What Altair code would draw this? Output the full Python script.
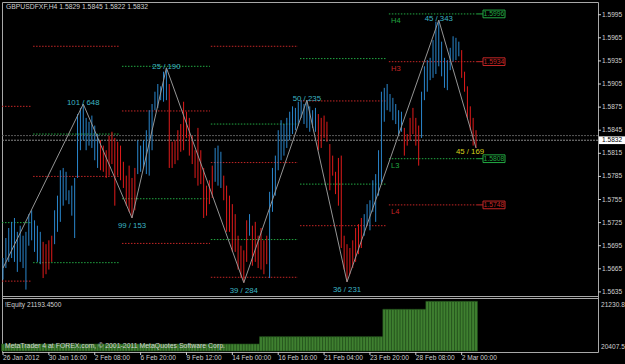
import altair as alt
import pandas as pd

# ---------------- data ----------------
HEADER = "GBPUSDFXF,H4  1.5829 1.5845 1.5822 1.5832"

HIGHS = [1.5679, 1.5705, 1.5718, 1.5726, 1.5731, 1.5713, 1.5721, 1.5708, 1.5713, 1.5736,
         1.5741, 1.5728, 1.5721, 1.5713, 1.5700, 1.5697, 1.5702, 1.5708, 1.5741, 1.5760,
         1.5793, 1.5796, 1.5791, 1.5767, 1.5773, 1.5783, 1.5866, 1.5874, 1.5879, 1.5861,
         1.5856, 1.5864, 1.5851, 1.5840, 1.5832, 1.5825, 1.5819, 1.5838, 1.5843, 1.5835,
         1.5830, 1.5825, 1.5804, 1.5786, 1.5799, 1.5783, 1.5796, 1.5832, 1.5825, 1.5832,
         1.5845, 1.5871, 1.5879, 1.5895, 1.5905, 1.5902, 1.5921, 1.5926, 1.5905, 1.5830,
         1.5832, 1.5845, 1.5853, 1.5882, 1.5869, 1.5861, 1.5838, 1.5819, 1.5848, 1.5819,
         1.5796, 1.5773, 1.5780, 1.5799, 1.5822, 1.5825, 1.5817, 1.5786, 1.5773, 1.5760,
         1.5749, 1.5736, 1.5708, 1.5695, 1.5689, 1.5728, 1.5736, 1.5721, 1.5726, 1.5708,
         1.5718, 1.5702, 1.5708, 1.5765, 1.5796, 1.5812, 1.5845, 1.5858, 1.5853, 1.5861,
         1.5869, 1.5876, 1.5874, 1.5882, 1.5884, 1.5879, 1.5884, 1.5876, 1.5871, 1.5874,
         1.5866, 1.5861, 1.5864, 1.5856, 1.5827, 1.5812, 1.5791, 1.5809, 1.5812, 1.5708,
         1.5697, 1.5692, 1.5702, 1.5718, 1.5723, 1.5731, 1.5736, 1.5749, 1.5754, 1.5780,
         1.5788, 1.5819, 1.5895, 1.5900, 1.5905, 1.5892, 1.5887, 1.5879, 1.5871, 1.5869,
         1.5848, 1.5840, 1.5861, 1.5874, 1.5861, 1.5851, 1.5895, 1.5928, 1.5936, 1.5939,
         1.5962, 1.5986, 1.5988, 1.5960, 1.5939, 1.5936, 1.5952, 1.5967, 1.5965, 1.5960,
         1.5949, 1.5921, 1.5902, 1.5876, 1.5861, 1.5845]

LOWS = [1.5651, 1.5666, 1.5674, 1.5679, 1.5674, 1.5661, 1.5674, 1.5666, 1.5638, 1.5695,
        1.5702, 1.5687, 1.5674, 1.5671, 1.5653, 1.5658, 1.5664, 1.5674, 1.5697, 1.5713,
        1.5726, 1.5747, 1.5754, 1.5749, 1.5734, 1.5705, 1.5783, 1.5819, 1.5832, 1.5819,
        1.5825, 1.5822, 1.5806, 1.5796, 1.5793, 1.5791, 1.5783, 1.5786, 1.5801, 1.5747,
        1.5786, 1.5780, 1.5770, 1.5747, 1.5739, 1.5731, 1.5741, 1.5788, 1.5791, 1.5796,
        1.5788, 1.5786, 1.5819, 1.5871, 1.5874, 1.5884, 1.5882, 1.5884, 1.5796, 1.5796,
        1.5801, 1.5806, 1.5817, 1.5819, 1.5835, 1.5812, 1.5801, 1.5783, 1.5773, 1.5775,
        1.5731, 1.5734, 1.5749, 1.5757, 1.5778, 1.5773, 1.5770, 1.5754, 1.5713, 1.5713,
        1.5687, 1.5687, 1.5664, 1.5653, 1.5647, 1.5674, 1.5708, 1.5669, 1.5674, 1.5666,
        1.5664, 1.5658, 1.5671, 1.5653, 1.5739, 1.5760, 1.5793, 1.5806, 1.5812, 1.5822,
        1.5832, 1.5840, 1.5845, 1.5851, 1.5861, 1.5853, 1.5848, 1.5843, 1.5848, 1.5843,
        1.5819, 1.5822, 1.5835, 1.5830, 1.5767, 1.5786, 1.5762, 1.5747, 1.5692, 1.5664,
        1.5648, 1.5658, 1.5666, 1.5674, 1.5684, 1.5692, 1.5708, 1.5721, 1.5715, 1.5739,
        1.5726, 1.5760, 1.5775, 1.5856, 1.5871, 1.5869, 1.5858, 1.5853, 1.5838, 1.5843,
        1.5812, 1.5825, 1.5832, 1.5840, 1.5825, 1.5799, 1.5835, 1.5884, 1.5895, 1.5910,
        1.5913, 1.5918, 1.5928, 1.5915, 1.5900, 1.5897, 1.5923, 1.5934, 1.5936, 1.5941,
        1.5913, 1.5895, 1.5861, 1.5845, 1.5825, 1.5822]

# 1 = bullish bar (blue), 0 = bearish bar (red)
UP = [1] * 14 + [0] * 4 + [1] * 16 + [0] * 13 + [1] * 11 + [0] * 16 + [1] * 3 + [0] * 9 + [1] \
     + [0] * 6 + [1] * 17 + [0] * 16 + [1] * 14 + [0] * 6 + [1] * 14 + [0] * 6

PIVOT_BAR = [0, 28, 45, 57, 84, 106, 120, 152, 165]
PIVOT_PRICE = [1.5666, 1.5879, 1.5731, 1.5926, 1.5647, 1.5884, 1.5648, 1.5988, 1.5822]
PIVOT_LABEL = ["", "101 / 648", "99 / 153", "25 / 190", "39 / 284", "50 / 235", "36 / 231", "45 / 343", "45 / 169"]
PIVOT_KIND = ["low", "high", "low", "high", "low", "high", "low", "high", "last"]

LEVEL_START = [-0.35] * 3 + [10.5] * 4 + [41.5] * 4 + [72.5] * 5 + [103.6] * 4 + [134.6] * 4
LEVEL_END = [10.1] * 3 + [40.8] * 4 + [72.2] * 4 + [102.9] * 5 + [133.9] * 4 + [165.3] * 4
LEVEL_PRICE = [1.5876, 1.5725, 1.5649,
               1.5954, 1.5840, 1.5785, 1.5673,
               1.5928, 1.5870, 1.5756, 1.5698,
               1.5954, 1.5853, 1.5803, 1.5703, 1.5654,
               1.5938, 1.5883, 1.5775, 1.5721,
               1.5996, 1.5934, 1.5808, 1.5748]
LEVEL_KIND = ["r", "g", "r",
              "r", "g", "r", "g",
              "g", "r", "g", "r",
              "r", "g", "r", "g", "r",
              "g", "r", "g", "r",
              "g", "r", "g", "r"]

TAG_TEXT = ["H4", "H3", "L3", "L4"]
TAG_PRICE = [1.5996, 1.5934, 1.5808, 1.5748]
TAG_KIND = ["g", "r", "g", "r"]

BID_PRICE = [1.5838, 1.5832]

Y_TICKS = [1.5635, 1.5665, 1.5695, 1.5725, 1.5755, 1.5785, 1.5815, 1.5845,
           1.5875, 1.5905, 1.5935, 1.5965, 1.5995]
CURRENT = 1.5832

X_TICK_BARS = [0, 16, 32, 48, 64, 80, 96, 112, 128, 144, 160]
X_TICK_LABELS = ["26 Jan 2012", "30 Jan 16:00", "2 Feb 08:00", "6 Feb 20:00", "9 Feb 12:00",
                 "14 Feb 00:00", "16 Feb 16:00", "21 Feb 04:00", "23 Feb 20:00",
                 "28 Feb 08:00", "2 Mar 00:00"]

EQ_START = [0, 90, 133, 148]
EQ_END = [89, 132, 147, 165]
EQ_VALUE = [20518.0, 20634.0, 21068.0, 21193.45]
EQ_TICKS = [21230.8, 20407.5]
EQ_TITLE = "!Equity 21193.4500"
COPYRIGHT = "MetaTrader 4 at FOREX.com, \u00a9 2001-2011 MetaQuotes Software Corp."

# ---------------- styling ----------------
FONT = "Liberation Sans"
UP_C, DN_C = "#2a86cc", "#e01b1b"
RED_L, GREEN_L = "#c42626", "#22a843"
AX_C = "#d0d0d0"
FRAME = "#a8a8a8"

W, H = 596, 350
xs = alt.Scale(domain=[-0.349, 207.55], nice=False, zero=False)
ps = alt.Scale(domain=[1.56297, 1.60115], range=[294, 0], nice=False, zero=False)
es = alt.Scale(domain=[20407.5, 21230.8], range=[349, 297], nice=False, zero=False)


def X(f):
    return alt.X(f, type="quantitative", scale=xs, axis=None)


def PY(f):
    return alt.Y(f, type="quantitative", scale=ps, axis=None)


def EY(f):
    return alt.Y(f, type="quantitative", scale=es, axis=None)


kc = {"r": RED_L, "g": GREEN_L}

bars = pd.DataFrame({"i": list(range(len(HIGHS))), "h": HIGHS, "l": LOWS,
                     "c": [UP_C if u else DN_C for u in UP]})
levels = pd.DataFrame({"s": LEVEL_START, "e": LEVEL_END, "p": LEVEL_PRICE,
                       "c": [kc[k] for k in LEVEL_KIND]})
piv = pd.DataFrame({"i": PIVOT_BAR, "p": PIVOT_PRICE, "t": PIVOT_LABEL, "k": PIVOT_KIND})
tags = pd.DataFrame({"t": TAG_TEXT, "p": TAG_PRICE, "c": [kc[k] for k in TAG_KIND],
                     "b": [f"{v:.4f}" for v in TAG_PRICE]})
tags["top"] = tags["p"] + 0.0005
tags["bot"] = tags["p"] - 0.0005
bids = pd.DataFrame({"p": BID_PRICE, "c": ["#5a5a5a", "#8a8a8a"]})
yt = pd.DataFrame({"p": Y_TICKS, "t": [f"{v:.4f}" for v in Y_TICKS]})
cur = pd.DataFrame({"p": [CURRENT], "top": [CURRENT + 0.0005], "bot": [CURRENT - 0.0005],
                    "t": [f"{CURRENT:.4f}"]})
xt = pd.DataFrame({"i": X_TICK_BARS, "t": X_TICK_LABELS})
eq_rows = []
for s, e, v in zip(EQ_START, EQ_END, EQ_VALUE):
    for i in range(s, e + 1):
        eq_rows.append({"i": i, "v": v})
eq = pd.DataFrame(eq_rows)
eq["x0"] = eq["i"] - 0.5
eq["x1"] = eq["i"] + 0.5
eq["base"] = EQ_TICKS[1]
eqt = pd.DataFrame({"v": EQ_TICKS, "t": ["21230.8", "20407.5"]})

layers = []

# equity histogram
layers.append(alt.Chart(eq).mark_rect(color="#3f8030", stroke="#24501c", strokeWidth=0.6).encode(
    x=X("x0"), x2="x1", y=EY("v"), y2="base"))

# pivot level lines
layers.append(alt.Chart(levels).mark_rule(strokeWidth=1, strokeDash=[1.5, 1.5]).encode(
    x=X("s"), x2="e", y=PY("p"), color=alt.Color("c:N", scale=None)))

# bid / ask lines
layers.append(alt.Chart(bids).mark_rule(strokeWidth=1, strokeDash=[2, 1]).encode(
    x=alt.value(0), x2=alt.value(W), y=PY("p"), color=alt.Color("c:N", scale=None)))

# price bars
layers.append(alt.Chart(bars).mark_rule(strokeWidth=1).encode(
    x=X("i"), y=PY("l"), y2="h", color=alt.Color("c:N", scale=None)))

# zigzag
layers.append(alt.Chart(piv).mark_line(color="#959595", strokeWidth=1, clip=True).encode(
    x=X("i"), y=PY("p"), order="i:Q"))

# zigzag labels
tfont = dict(font=FONT, fontSize=7.8)
layers.append(alt.Chart(piv).transform_filter("datum.k == 'high'").mark_text(
    color="#3cb4c4", baseline="middle", dy=-1, **tfont).encode(x=X("i"), y=PY("p"), text="t:N"))
layers.append(alt.Chart(piv).transform_filter("datum.k == 'low' && datum.t != ''").mark_text(
    color="#3cb4c4", baseline="middle", dy=8, **tfont).encode(x=X("i"), y=PY("p"), text="t:N"))
layers.append(alt.Chart(piv).transform_filter("datum.k == 'last'").mark_text(
    color="#d4d41c", baseline="middle", dy=4, dx=-6, **tfont).encode(x=X("i"), y=PY("p"), text="t:N"))

# H4/H3/L3/L4 tags
layers.append(alt.Chart(tags).mark_text(align="left", baseline="top", dy=3, font=FONT, fontSize=7.5).encode(
    x=alt.value(389), y=PY("p"), text="t:N", color=alt.Color("c:N", scale=None)))
# connectors and price boxes
layers.append(alt.Chart(tags).mark_rule(strokeWidth=1).encode(
    x=alt.value(475), x2=alt.value(481), y=PY("p"), color=alt.Color("c:N", scale=None)))
layers.append(alt.Chart(tags).mark_rect(fill="#000000", strokeWidth=1).encode(
    x=alt.value(481), x2=alt.value(503), y=PY("top"), y2="bot", stroke=alt.Color("c:N", scale=None)))
layers.append(alt.Chart(tags).mark_text(align="center", baseline="middle", font=FONT, fontSize=6.8).encode(
    x=alt.value(492), y=PY("p"), text="b:N", color=alt.Color("c:N", scale=None)))

# panel separators
sep = pd.DataFrame({"y": [294.5, 296.5]})
layers.append(alt.Chart(sep).mark_rule(color=FRAME, strokeWidth=1).encode(
    x=alt.value(0), x2=alt.value(W), y=alt.Y("y:Q", scale=alt.Scale(domain=[0, H], range=[0, H]), axis=None)))

# price axis (right)
layers.append(alt.Chart(yt).mark_rule(color=AX_C, strokeWidth=1).encode(
    x=alt.value(W), x2=alt.value(W + 3), y=PY("p")))
layers.append(alt.Chart(yt).mark_text(align="left", baseline="middle", color=AX_C, font=FONT, fontSize=6.6).encode(
    x=alt.value(W + 4), y=PY("p"), text="t:N"))
layers.append(alt.Chart(cur).mark_rect(fill="#ffffff").encode(
    x=alt.value(W + 1), x2=alt.value(W + 27), y=PY("top"), y2="bot"))
layers.append(alt.Chart(cur).mark_text(align="left", baseline="middle", color="#000000", font=FONT, fontSize=6.6).encode(
    x=alt.value(W + 4), y=PY("p"), text="t:N"))

# equity axis
layers.append(alt.Chart(eqt).transform_filter("datum.v > 21000").mark_text(
    align="left", baseline="top", dy=3, color=AX_C, font=FONT, fontSize=6.6).encode(
    x=alt.value(W + 3), y=EY("v"), text="t:N"))
layers.append(alt.Chart(eqt).transform_filter("datum.v < 21000").mark_text(
    align="left", baseline="bottom", dy=-1, color=AX_C, font=FONT, fontSize=6.6).encode(
    x=alt.value(W + 3), y=EY("v"), text="t:N"))

# time axis
layers.append(alt.Chart(xt).mark_rule(color=AX_C, strokeWidth=1).encode(
    x=X("i"), y=alt.value(H), y2=alt.value(H + 3)))
layers.append(alt.Chart(xt).mark_text(align="left", baseline="middle", color=AX_C, font=FONT, fontSize=6.6, dx=0).encode(
    x=X("i"), y=alt.value(H + 5.5), text="t:N"))

# captions
cap = pd.DataFrame({"t": [HEADER], "t2": [EQ_TITLE], "t3": [COPYRIGHT]})
layers.append(alt.Chart(cap).mark_text(align="left", baseline="middle", color=AX_C, font=FONT, fontSize=6.8).encode(
    x=alt.value(4), y=alt.value(4.5), text="t:N"))
layers.append(alt.Chart(cap).mark_text(align="left", baseline="middle", color=AX_C, font=FONT, fontSize=6.6).encode(
    x=alt.value(3), y=alt.value(302.5), text="t2:N"))
layers.append(alt.Chart(cap).mark_text(align="left", baseline="middle", color=AX_C, font=FONT, fontSize=6.9).encode(
    x=alt.value(3), y=alt.value(344), text="t3:N"))

chart = alt.layer(*layers).resolve_scale(y="independent").properties(
    width=W, height=H,
    autosize=alt.AutoSizeParams(type="none"),
    padding={"left": 2, "top": 2, "right": 27, "bottom": 12},
).configure(background="#000000").configure_view(stroke=FRAME, strokeWidth=1)

chart.save("out.html", embed_options={"renderer": "svg", "actions": False})
